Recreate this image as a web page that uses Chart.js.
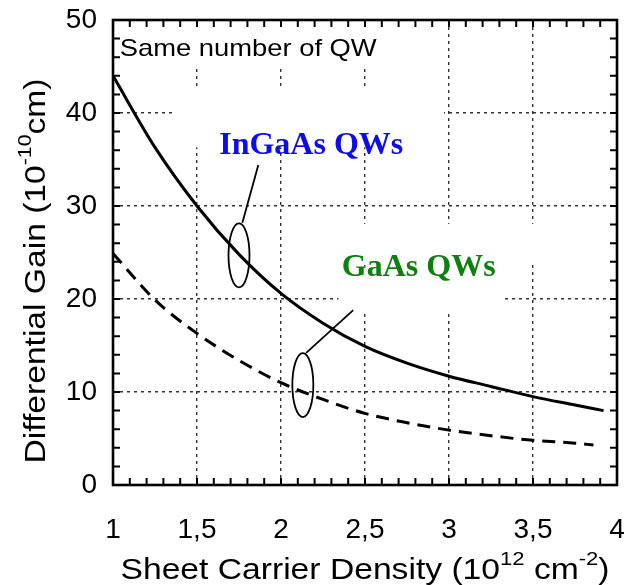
<!DOCTYPE html>
<html><head><meta charset="utf-8">
<script src="https://cdn.jsdelivr.net/npm/chart.js@4.4.1/dist/chart.umd.min.js"></script>
<style>html,body{margin:0;padding:0;background:#fff}#wrap{width:628px;height:585px}</style>
</head><body><div id="wrap"><canvas id="c" width="628" height="585"></canvas></div>
<script>
const ingaasDensity = [1.0, 1.25, 1.5, 1.75, 2.0, 2.25, 2.5, 2.75, 3.0, 3.25, 3.5, 3.75, 3.92];
const ingaasGain = [44, 36.3, 30, 24.8, 20.6, 17.4, 14.9, 13.1, 11.7, 10.6, 9.5, 8.6, 8.0];
const gaasDensity = [1.0, 1.25, 1.5, 1.75, 2.0, 2.25, 2.5, 2.75, 3.0, 3.25, 3.5, 3.75, 3.86];
const gaasGain = [24.9, 19.9, 16.3, 13.4, 11.0, 9.2, 7.7, 6.7, 5.9, 5.3, 4.8, 4.5, 4.3];
const xTicks = [1, 1.5, 2, 2.5, 3, 3.5, 4];
const xTickLabels = ['1', '1,5', '2', '2,5', '3', '3,5', '4'];
const yTicks = [0, 10, 20, 30, 40, 50];

const FONT = '"Liberation Sans", Arial, Helvetica, sans-serif';
const SERIF = '"Liberation Serif", "Times New Roman", serif';

// white patches of the scanned figure (in data units: x1, y1, x2, y2)
const patches = [
  [1.0, 50, 2.72, 44.9],
  [1.34, 42.8, 2.97, 36.3],
  [2.14, 28.3, 3.78, 23.7],
  [2.33, 23.7, 3.32, 18.8]
];

const decor = {
  id: 'decor',
  beforeDatasetsDraw(chart) {
    const ctx = chart.ctx, xs = chart.scales.x, ys = chart.scales.y;
    ctx.save();
    ctx.fillStyle = '#fff';
    patches.forEach(p => {
      const x1 = xs.getPixelForValue(p[0]) + 2, y1 = ys.getPixelForValue(p[1]) + 2;
      const x2 = xs.getPixelForValue(p[2]), y2 = ys.getPixelForValue(p[3]);
      ctx.fillRect(x1, y1, x2 - x1, y2 - y1);
    });
    ctx.restore();
  },
  afterDatasetsDraw(chart) {
    const ctx = chart.ctx, xs = chart.scales.x, ys = chart.scales.y, a = chart.chartArea;
    ctx.save();
    // frame
    ctx.strokeStyle = '#000'; ctx.lineWidth = 2.6; ctx.setLineDash([]);
    ctx.strokeRect(a.left, a.top, a.right - a.left, a.bottom - a.top);
    // inward ticks
    ctx.lineWidth = 2;
    for (let i = 1; i < 30; i++) {
      const v = 1 + i * 0.1; const px = xs.getPixelForValue(v);
      const L = 7;
      ctx.beginPath(); ctx.moveTo(px, a.bottom); ctx.lineTo(px, a.bottom - L);
      ctx.moveTo(px, a.top); ctx.lineTo(px, a.top + L); ctx.stroke();
    }
    for (let v = 2; v < 50; v += 2) {
      const py = ys.getPixelForValue(v);
      const L = 7;
      ctx.beginPath(); ctx.moveTo(a.left, py); ctx.lineTo(a.left + L, py);
      ctx.moveTo(a.right, py); ctx.lineTo(a.right - L, py); ctx.stroke();
    }
    // annotation texts
    function stretchedText(txt, x, y, font, sx, align) {
      ctx.save();
      ctx.font = font;
      ctx.translate(x, y); ctx.scale(sx, 1);
      ctx.textAlign = align;
      ctx.fillText(txt, 0, 0);
      ctx.restore();
    }
    ctx.fillStyle = '#000'; ctx.textBaseline = 'middle';
    stretchedText('Same number of QW', xs.getPixelForValue(1.04), ys.getPixelForValue(46.8), '24px ' + FONT, 1.14, 'left');
    ctx.fillStyle = '#0d0de8';
    stretchedText('InGaAs QWs', xs.getPixelForValue(2.18), ys.getPixelForValue(36.5), 'bold 32px ' + SERIF, 1, 'center');
    ctx.fillStyle = '#0f800f';
    stretchedText('GaAs QWs', xs.getPixelForValue(2.82), ys.getPixelForValue(23.4), 'bold 32px ' + SERIF, 1, 'center');
    // ellipses & leader lines
    ctx.strokeStyle = '#000'; ctx.lineWidth = 1.8;
    function ell(cx, cy, rx, ry) {
      ctx.beginPath();
      ctx.ellipse(xs.getPixelForValue(cx), ys.getPixelForValue(cy), rx, ry, 0, 0, Math.PI * 2);
      ctx.stroke();
    }
    function line(x1, y1, x2, y2) {
      ctx.beginPath();
      ctx.moveTo(xs.getPixelForValue(x1), ys.getPixelForValue(y1));
      ctx.lineTo(xs.getPixelForValue(x2), ys.getPixelForValue(y2));
      ctx.stroke();
    }
    ell(1.75, 24.7, 10.5, 32);
    line(1.77, 28.2, 1.865, 34.4);
    ell(2.13, 10.75, 10.5, 32);
    line(2.15, 14.2, 2.43, 18.8);
    // axis titles with superscripts
    ctx.fillStyle = '#000';
    ctx.textBaseline = 'alphabetic';
    function supText(parts, x, y, big, small, rise, sx) {
      let w = 0;
      parts.forEach(p => { ctx.font = (p[1] ? small : big) + 'px ' + FONT; w += ctx.measureText(p[0]).width; });
      ctx.save();
      ctx.translate(x, y); ctx.scale(sx, 1);
      let cx = -w / 2;
      ctx.textAlign = 'left';
      parts.forEach(p => {
        ctx.font = (p[1] ? small : big) + 'px ' + FONT;
        ctx.fillText(p[0], cx, p[1] ? -rise : 0);
        cx += ctx.measureText(p[0]).width;
      });
      ctx.restore();
    }
    supText([['Sheet Carrier Density (10', false], ['12', true], [' cm', false], ['-2', true], [')', false]], 365, 579, 29, 19, 14, 1.16);
    ctx.save();
    ctx.translate(45, 271); ctx.rotate(-Math.PI / 2);
    supText([['Differential Gain (10', false], ['-10', true], ['cm)', false]], 0, 0, 30, 19, 14, 1.12);
    ctx.restore();
    ctx.restore();
  }
};

function zeroPad(s) { s.paddingLeft = 0; s.paddingRight = 0; s.paddingTop = 0; s.paddingBottom = 0; }

new Chart(document.getElementById('c'), {
  type: 'scatter',
  data: {
    datasets: [
      { label: 'InGaAs QWs', data: ingaasDensity.map((x, i) => ({ x, y: ingaasGain[i] })), showLine: true,
        borderColor: '#000', borderWidth: 3, pointRadius: 0, cubicInterpolationMode: 'monotone', fill: false },
      { label: 'GaAs QWs', data: gaasDensity.map((x, i) => ({ x, y: gaasGain[i] })), showLine: true,
        borderColor: '#000', borderWidth: 3, borderDash: [13, 8], pointRadius: 0, cubicInterpolationMode: 'monotone', fill: false }
    ]
  },
  options: {
    responsive: false, animation: false, devicePixelRatio: 1,
    layout: { padding: { top: 20, right: 11, left: 0, bottom: 0 } },
    plugins: { legend: { display: false }, tooltip: { enabled: false } },
    scales: {
      x: {
        type: 'linear', min: 1, max: 4,
        afterBuildTicks(s) { s.ticks = xTicks.map(v => ({ value: v })); },
        afterFit(s) { s.height = 100; zeroPad(s); },
        ticks: { callback: (v) => xTickLabels[xTicks.indexOf(v)], color: '#000', font: { family: FONT, size: 28 }, padding: 28, maxRotation: 0, autoSkip: false },
        grid: { color: (c) => (c.tick && (c.tick.value === 1 || c.tick.value === 4)) ? 'rgba(0,0,0,0)' : '#333', lineWidth: 1.4, drawTicks: false },
        border: { display: false, dash: [3, 4] }
      },
      y: {
        type: 'linear', min: 0, max: 50,
        afterBuildTicks(s) { s.ticks = yTicks.map(v => ({ value: v })); },
        afterFit(s) { s.width = 113; zeroPad(s); },
        ticks: { color: '#000', font: { family: FONT, size: 28 }, padding: 16 },
        grid: { color: (c) => (c.tick && (c.tick.value === 0 || c.tick.value === 50)) ? 'rgba(0,0,0,0)' : '#333', lineWidth: 1.4, drawTicks: false },
        border: { display: false, dash: [3, 4] }
      }
    }
  },
  plugins: [decor]
});
</script></body></html>
